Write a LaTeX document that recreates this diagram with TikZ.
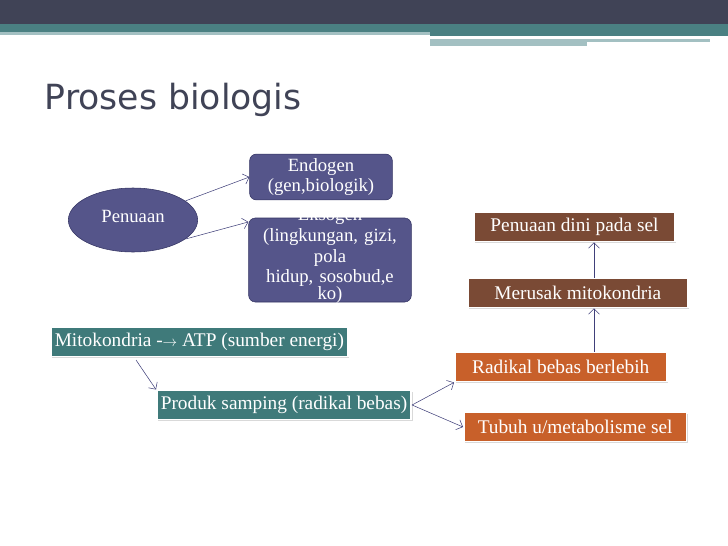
\documentclass[tikz,border=0pt]{standalone}
\usepackage{fontspec}
\setmainfont{Liberation Serif}
\newfontfamily\titlefont{DejaVu Sans}
\usetikzlibrary{positioning, shapes, arrows.meta, shadows}
\definecolor{bardark}{HTML}{404356}
\definecolor{barteal}{HTML}{4A8082}
\definecolor{barlight}{HTML}{A3C0C2}
\definecolor{boxblue}{HTML}{55558A}
\definecolor{boxbrown}{HTML}{7A4A35}
\definecolor{boxorange}{HTML}{C8602A}
\definecolor{boxteal}{HTML}{3F7A7A}
\definecolor{arrowblue}{HTML}{40407A}

\tikzset{
  blue box/.style={draw=arrowblue!80!black, fill=boxblue, text=white, rounded corners=5pt, align=center, font=\fontsize{14}{15}\selectfont},
  flat box/.style={draw=white, line width=1.2pt, text=white, anchor=west, inner sep=3pt, font=\fontsize{14.5}{16}\selectfont, drop shadow={opacity=0.3, shadow xshift=1pt, shadow yshift=-1pt}},
  link/.style={->, arrowblue, >={Straight Barb[length=4pt]}}
}

\begin{document}
\begin{tikzpicture}[x=0.75pt, y=-0.75pt]
  \useasboundingbox (0,0) rectangle (728,546);

  % Header bands
  \fill[bardark] (0,0) rectangle (728,24);
  \fill[barteal] (0,24) rectangle (728,32);
  \fill[barlight] (0,32) rectangle (430,35);
  \fill[barteal] (430,32) rectangle (728,36);
  \fill[barlight] (430,39) rectangle (710,42);
  \fill[barlight] (430,42) rectangle (587,46);
  \node[anchor=west, text=bardark, font=\titlefont\fontsize{26}{28}\selectfont] (title) at (40,100) {Proses biologis};

  % Penuaan tree
  \node[ellipse, draw=arrowblue!80!black, fill=boxblue, text=white, minimum width=97pt, minimum height=48pt, font=\fontsize{14}{15}\selectfont] (penuaan) at (133,220) {\raisebox{6pt}{Penuaan}};
  \node[blue box, minimum width=107pt, minimum height=30pt] (endo) at (321,177) {Endogen\\(gen,biologik)};
  \node[blue box, text width=118pt, minimum height=63pt, inner sep=2pt, font=\fontsize{14}{15.5}\selectfont] (ekso) at (330,260) {\raisebox{0pt}[0pt][0pt]{Eksogen}\\(lingkungan, gizi,\\pola\\hidup, sosobud,e\\[-3pt]\smash{ko)}};
  \draw[link] (penuaan.20) -- (endo.west);
  \draw[link] (penuaan.-20) -- (ekso.155);

  % Mitochondria chain
  \node[flat box, fill=boxteal, minimum height=22pt] (mito) at (50,342) {Mitokondria -{\fontspec{DejaVu Sans}\fontsize{11}{12}\selectfont$\rightarrow$} ATP (sumber energi)\hspace{4pt}};
  \node[flat box, fill=boxteal, minimum height=22pt] (produk) at (156,405) {Produk samping (radikal bebas)};
  \node[flat box, fill=boxorange, minimum height=22pt, minimum width=159pt] (radikal) at (454,367) {Radikal bebas berlebih};
  \node[flat box, fill=boxorange, minimum height=22pt, minimum width=167pt] (tubuh) at (463,427) {Tubuh u/metabolisme sel};
  \node[flat box, fill=boxbrown, minimum height=22pt, minimum width=165pt] (merusak) at (467,293) {Merusak mitokondria};
  \node[flat box, fill=boxbrown, minimum height=22pt, minimum width=151pt] (dini) at (473,227) {Penuaan dini pada sel};

  \coordinate (mitoout) at (136,360);
  \coordinate (vline) at (594,0);
  \draw[link] (mitoout) -- (produk.north west);
  \draw[link] (produk.east) -- (radikal.south west);
  \draw[link] (produk.east) -- (tubuh.west);
  \draw[link] (radikal.north -| vline) -- (merusak.south -| vline);
  \draw[link] (merusak.north -| vline) -- (dini.south -| vline);
\end{tikzpicture}
\end{document}
